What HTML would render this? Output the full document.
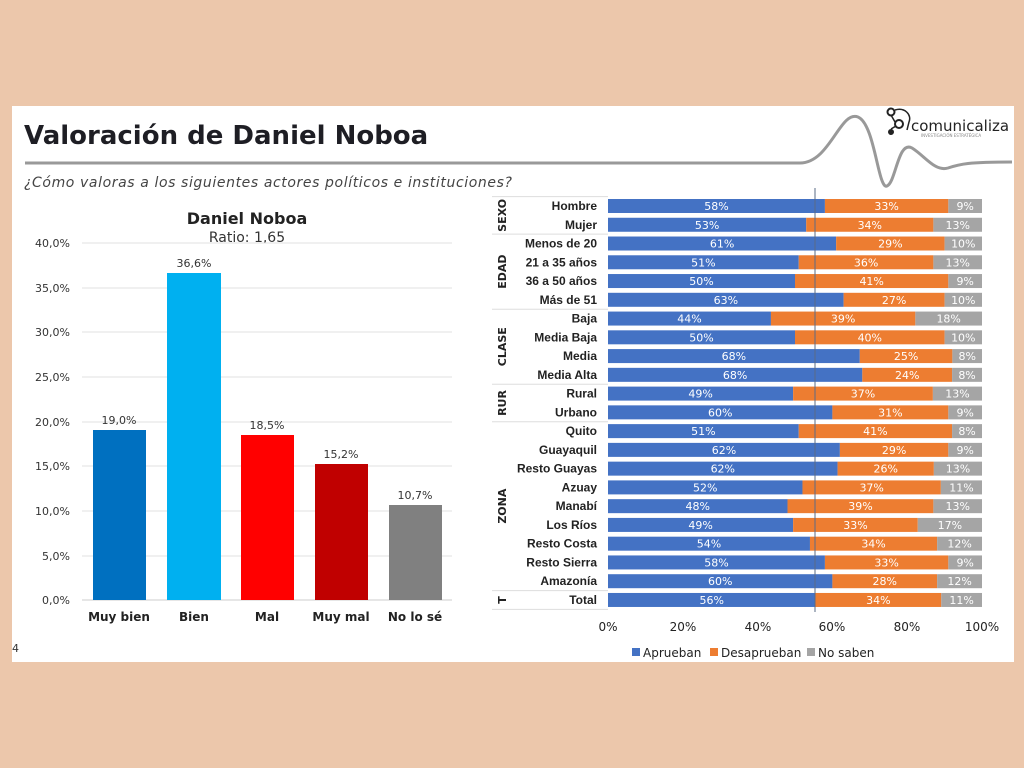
<!DOCTYPE html>
<html><head><meta charset="utf-8"><style>
body{margin:0;width:1024px;height:768px;background:#ecc7ab;overflow:hidden}
svg{display:block}
text{font-family:"DejaVu Sans","Liberation Sans",sans-serif}
.lab{font-family:"Liberation Sans",sans-serif}
</style></head><body>
<svg width="1024" height="768" xmlns="http://www.w3.org/2000/svg">
<rect x="0" y="0" width="1024" height="768" fill="#ecc7ab"/>
<rect x="12" y="106" width="1002" height="556" fill="#fff"/>
<text x="24" y="144" font-size="26" font-weight="bold" fill="#1e1e24">Valoración de Daniel Noboa</text>
<path d="M25,163 L800,163 C830,163 840,110 858,117 C875,124 878,190 887,186 C896,182 898,140 912,148 C925,156 935,172 948,168 C960,164 968,162 1012,162" fill="none" stroke="#999" stroke-width="3"/>
<g transform="translate(887,110)">
<circle cx="4" cy="2" r="3.5" fill="none" stroke="#222" stroke-width="2"/>
<circle cx="12" cy="14" r="4" fill="none" stroke="#222" stroke-width="2"/>
<circle cx="4" cy="22" r="3" fill="#222"/>
<path d="M4,5 L8,12 M4,19 L9,16 M8,0 C18,-3 25,5 22,12 L20,20" fill="none" stroke="#222" stroke-width="1.5"/>
<text x="24" y="21" font-size="15" fill="#222">comunicaliza</text>
<text x="34" y="27" font-size="4" fill="#888">INVESTIGACIÓN ESTRATÉGICA</text>
</g>
<text x="24" y="187" font-size="14" font-style="italic" fill="#444" letter-spacing="0.6">¿Cómo valoras a los siguientes actores políticos e instituciones?</text>
<text x="247" y="224" font-size="16" font-weight="bold" text-anchor="middle" fill="#222">Daniel Noboa</text>
<text x="247" y="242" font-size="14" text-anchor="middle" fill="#333">Ratio: 1,65</text>
<g font-size="11" fill="#333" text-anchor="end">
<line x1="82" x2="452" y1="243" y2="243" stroke="#e2e2e2"/><text x="70" y="247">40,0%</text>
<line x1="82" x2="452" y1="288" y2="288" stroke="#e2e2e2"/><text x="70" y="292">35,0%</text>
<line x1="82" x2="452" y1="332" y2="332" stroke="#e2e2e2"/><text x="70" y="336">30,0%</text>
<line x1="82" x2="452" y1="377" y2="377" stroke="#e2e2e2"/><text x="70" y="381">25,0%</text>
<line x1="82" x2="452" y1="422" y2="422" stroke="#e2e2e2"/><text x="70" y="426">20,0%</text>
<line x1="82" x2="452" y1="466" y2="466" stroke="#e2e2e2"/><text x="70" y="470">15,0%</text>
<line x1="82" x2="452" y1="511" y2="511" stroke="#e2e2e2"/><text x="70" y="515">10,0%</text>
<line x1="82" x2="452" y1="556" y2="556" stroke="#e2e2e2"/><text x="70" y="560">5,0%</text>
<line x1="82" x2="452" y1="600" y2="600" stroke="#ccc"/><text x="70" y="604">0,0%</text>
</g>
<rect x="93" y="430" width="53" height="170" fill="#0070c0"/>
<rect x="167" y="273" width="54" height="327" fill="#00b0f0"/>
<rect x="241" y="435" width="53" height="165" fill="#ff0000"/>
<rect x="315" y="464" width="53" height="136" fill="#c00000"/>
<rect x="389" y="505" width="53" height="95" fill="#808080"/>
<g font-size="11" fill="#333" text-anchor="middle">
<text x="119" y="424">19,0%</text><text x="194" y="267">36,6%</text><text x="267" y="429">18,5%</text><text x="341" y="458">15,2%</text><text x="415" y="499">10,7%</text>
</g>
<g font-size="12" font-weight="bold" fill="#222" text-anchor="middle">
<text x="119" y="621">Muy bien</text><text x="194" y="621">Bien</text><text x="267" y="621">Mal</text><text x="341" y="621">Muy mal</text><text x="415" y="621">No lo sé</text>
</g>
<text x="12" y="652" font-size="11" fill="#333">4</text>
<g id="rows"></g>
<line x1="815" x2="815" y1="188" y2="612" stroke="#5a6b86" stroke-width="1"/>
<g font-size="12" fill="#222" text-anchor="middle">
<text x="608" y="631">0%</text><text x="683" y="631">20%</text><text x="758" y="631">40%</text><text x="832" y="631">60%</text><text x="907" y="631">80%</text><text x="982" y="631">100%</text>
</g>
<g font-size="12" fill="#222">
<rect x="632" y="648" width="8" height="8" fill="#4472c4"/><text x="643" y="657">Aprueban</text>
<rect x="710" y="648" width="8" height="8" fill="#ed7d31"/><text x="721" y="657">Desaprueban</text>
<rect x="807" y="648" width="8" height="8" fill="#a5a5a5"/><text x="818" y="657">No saben</text>
</g>
<g id="groups" font-size="11" font-weight="bold" fill="#222"></g>
</svg>
<script>
var d=[["Hombre",58,33,9],["Mujer",53,34,13],["Menos de 20",61,29,10],["21 a 35 años",51,36,13],["36 a 50 años",50,41,9],["Más de 51",63,27,10],["Baja",44,39,18],["Media Baja",50,40,10],["Media",68,25,8],["Media Alta",68,24,8],["Rural",49,37,13],["Urbano",60,31,9],["Quito",51,41,8],["Guayaquil",62,29,9],["Resto Guayas",62,26,13],["Azuay",52,37,11],["Manabí",48,39,13],["Los Ríos",49,33,17],["Resto Costa",54,34,12],["Resto Sierra",58,33,9],["Amazonía",60,28,12],["Total",56,34,11]];
var g=document.getElementById("rows"),s="";
var x0=608,W=374;
d.forEach(function(r,i){var cy=206+i*18.76,y=cy-7,t=r[1]+r[2]+r[3];var a=W*r[1]/t,b=W*r[2]/t,c=W-a-b;
s+='<rect x="'+x0+'" y="'+y+'" width="'+a+'" height="14" fill="#4472c4"/>';
s+='<rect x="'+(x0+a)+'" y="'+y+'" width="'+b+'" height="14" fill="#ed7d31"/>';
s+='<rect x="'+(x0+a+b)+'" y="'+y+'" width="'+c+'" height="14" fill="#a5a5a5"/>';
s+='<text x="'+(x0+a/2)+'" y="'+(cy+4)+'" font-size="11" fill="#fff" text-anchor="middle">'+r[1]+'%</text>';
s+='<text x="'+(x0+a+b/2)+'" y="'+(cy+4)+'" font-size="11" fill="#fff" text-anchor="middle">'+r[2]+'%</text>';
s+='<text x="'+(x0+a+b+c/2)+'" y="'+(cy+4)+'" font-size="11" fill="#fff" text-anchor="middle">'+r[3]+'%</text>';
s+='<text class="lab" x="597" y="'+(cy+4)+'" font-size="12" font-weight="bold" fill="#222" text-anchor="end">'+r[0]+'</text>';
});
g.innerHTML=s;
var gr=[["SEXO",0,1],["EDAD",2,5],["CLASE",6,9],["RUR",10,11],["ZONA",12,20],["T",21,21]],h="";
gr.forEach(function(q){var top=206+q[1]*18.76-9.4,bot=206+q[2]*18.76+9.4,m=(top+bot)/2;
h+='<text transform="translate(506,'+m+') rotate(-90)" text-anchor="middle">'+q[0]+'</text>';
h+='<line x1="492" x2="608" y1="'+bot+'" y2="'+bot+'" stroke="#ddd"/>';});
h+='<line x1="492" x2="608" y1="196.6" y2="196.6" stroke="#ddd"/>';
document.getElementById("groups").innerHTML=h;
</script>
</body></html>
